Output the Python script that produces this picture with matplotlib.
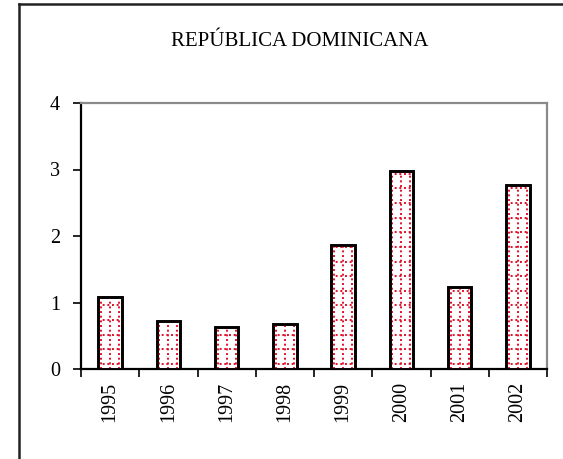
import numpy as np
import matplotlib.pyplot as plt
from matplotlib.lines import Line2D

# data
years = ['1995', '1996', '1997', '1998', '1999', '2000', '2001', '2002']
values = [1.08, 0.72, 0.63, 0.67, 1.86, 2.97, 1.24, 2.77]
title = 'REPÚBLICA DOMINICANA'

plt.rcParams['font.family'] = ['Liberation Serif', 'DejaVu Serif']

fig = plt.figure(figsize=(5.63, 4.59), dpi=100)
ax = fig.add_axes([81 / 563, 1 - 369 / 459, 466 / 563, 266 / 459])

x = np.arange(len(years))
w = 0.4
bars = ax.bar(x, values, width=w, facecolor='white', edgecolor='black',
              linewidth=1.9, zorder=4)
ax.bar(x, values, width=w, facecolor='none', edgecolor='black',
       linewidth=1.9, zorder=6)

# red dotted grid inside each bar
dot = dict(color='#e3102a', linewidth=1.4, linestyle=(0, (1, 1.4)), zorder=5)
hy = np.arange(0.075, 4.0, 0.22)
for xi, v, b in zip(x, values, bars):
    for yy in hy:
        if yy < v:
            ln = Line2D([xi - w / 2, xi + w / 2], [yy, yy], **dot)
            ax.add_line(ln)
            ln.set_clip_path(b)
    for xx in (xi - w / 2 + 0.045, xi, xi + w / 2 - 0.045):
        ln = Line2D([xx, xx], [0, v], **dot)
        ax.add_line(ln)
        ln.set_clip_path(b)

ax.set_xlim(-0.5, len(years) - 0.5)
ax.set_ylim(0, 4)
ax.set_yticks([0, 1, 2, 3, 4])
ax.set_xticks(np.arange(-0.5, len(years), 1.0))
ax.set_xticklabels([])
ax.set_xticks(x, minor=True)
ax.set_xticklabels(years, minor=True, rotation=90, fontsize=14.5)
ax.tick_params(axis='x', which='minor', length=0, pad=9)
ax.tick_params(axis='x', which='major', length=6, width=1.2, color='black')
ax.tick_params(axis='y', length=6, width=1.2, labelsize=14.5, pad=9)

for s in ('left', 'bottom'):
    ax.spines[s].set_color('black')
    ax.spines[s].set_linewidth(1.6)
for s in ('top', 'right'):
    ax.spines[s].set_color('#8a8a8a')
    ax.spines[s].set_linewidth(1.6)

fig.text(300 / 563, 1 - 42 / 459, title, ha='center', va='center', fontsize=15)

# outer frame (top and left edges visible)
fig.add_artist(Line2D([19 / 563, 19 / 563], [0, 1 - 3.5 / 459],
                      transform=fig.transFigure, color='#222222', linewidth=1.8))
fig.add_artist(Line2D([19 / 563, 1], [1 - 3.5 / 459, 1 - 3.5 / 459],
                      transform=fig.transFigure, color='#222222', linewidth=1.8))

fig.savefig('out.png', dpi=100)
